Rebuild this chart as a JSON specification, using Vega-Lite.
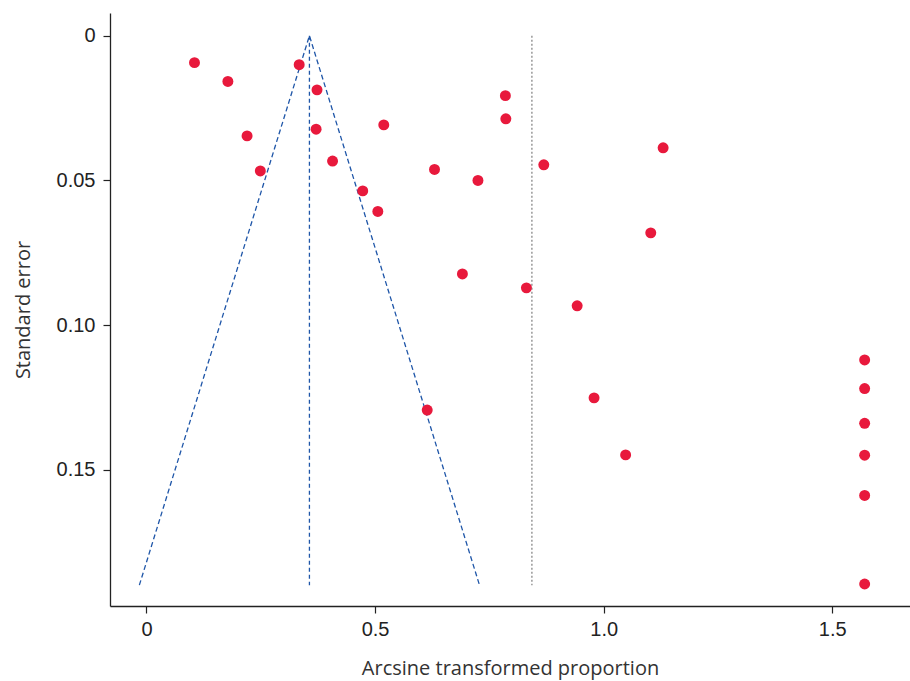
{
  "$schema": "https://vega.github.io/schema/vega-lite/v6.json",
  "width": 800,
  "height": 593,
  "autosize": {"type": "none"},
  "padding": {"left": 110, "top": 13, "right": 0, "bottom": 75},
  "background": "white",
  "config": {
    "view": {"stroke": null},
    "axis": {
      "grid": false,
      "domainColor": "#222222",
      "domainWidth": 1.3,
      "tickColor": "#222222",
      "tickWidth": 1.2,
      "tickSize": 7,
      "labelFont": "Liberation Sans",
      "labelFontSize": 20,
      "labelColor": "#222222",
      "titleFont": "Open Sans",
      "titleFontSize": 20,
      "titleFontWeight": "normal",
      "titleColor": "#333333"
    }
  },
  "datasets": {
    "studies": [
      {"p": 0.105, "se": 0.0093},
      {"p": 0.178, "se": 0.0158},
      {"p": 0.220, "se": 0.0346},
      {"p": 0.249, "se": 0.0467},
      {"p": 0.334, "se": 0.0100},
      {"p": 0.373, "se": 0.0187},
      {"p": 0.371, "se": 0.0323},
      {"p": 0.407, "se": 0.0433},
      {"p": 0.473, "se": 0.0536},
      {"p": 0.506, "se": 0.0607},
      {"p": 0.519, "se": 0.0308},
      {"p": 0.630, "se": 0.0462},
      {"p": 0.725, "se": 0.0500},
      {"p": 0.785, "se": 0.0207},
      {"p": 0.786, "se": 0.0287},
      {"p": 0.869, "se": 0.0446},
      {"p": 1.130, "se": 0.0387},
      {"p": 1.103, "se": 0.0681},
      {"p": 0.691, "se": 0.0823},
      {"p": 0.831, "se": 0.0871},
      {"p": 0.942, "se": 0.0933},
      {"p": 0.614, "se": 0.1293},
      {"p": 0.979, "se": 0.1251},
      {"p": 1.048, "se": 0.1448},
      {"p": 1.5708, "se": 0.1120},
      {"p": 1.5708, "se": 0.1219},
      {"p": 1.5708, "se": 0.1339},
      {"p": 1.5708, "se": 0.1449},
      {"p": 1.5708, "se": 0.1588},
      {"p": 1.5708, "se": 0.1894}
    ],
    "funnel": [
      {"p": -0.0156, "se": 0.1898, "ord": 1},
      {"p": 0.3564, "se": 0, "ord": 2},
      {"p": 0.7284, "se": 0.1898, "ord": 3}
    ],
    "pooled": [
      {"p": 0.3564, "se0": 0, "se1": 0.1898}
    ],
    "reference": [
      {"p": 0.843, "se0": 0, "se1": 0.1898}
    ]
  },
  "layer": [
    {
      "data": {"name": "funnel"},
      "mark": {"type": "line", "color": "#1f56a8", "strokeWidth": 1.3, "strokeDash": [5, 3]},
      "encoding": {
        "x": {
          "field": "p", "type": "quantitative",
          "scale": {"domain": [-0.0798, 1.67], "nice": false, "zero": false},
          "axis": {
            "values": [0, 0.5, 1, 1.5],
            "labelExpr": "datum.value == 0 ? '0' : format(datum.value, '.1f')",
            "title": "Arcsine transformed proportion",
            "labelPadding": 6,
            "titlePadding": 19
          }
        },
        "y": {
          "field": "se", "type": "quantitative",
          "scale": {"domain": [-0.00785, 0.197], "nice": false, "zero": false, "reverse": true},
          "axis": {
            "values": [0, 0.05, 0.1, 0.15],
            "labelExpr": "datum.value == 0 ? '0' : format(datum.value, '.2f')",
            "title": "Standard error",
            "labelPadding": 8,
            "titlePadding": 23
          }
        },
        "order": {"field": "ord", "type": "quantitative"}
      }
    },
    {
      "data": {"name": "pooled"},
      "mark": {"type": "rule", "color": "#1f56a8", "strokeWidth": 1.3, "strokeDash": [4, 3]},
      "encoding": {
        "x": {"field": "p", "type": "quantitative"},
        "y": {"field": "se0", "type": "quantitative"},
        "y2": {"field": "se1"}
      }
    },
    {
      "data": {"name": "reference"},
      "mark": {"type": "rule", "color": "#888888", "strokeWidth": 1.3, "strokeDash": [2, 2]},
      "encoding": {
        "x": {"field": "p", "type": "quantitative"},
        "y": {"field": "se0", "type": "quantitative"},
        "y2": {"field": "se1"}
      }
    },
    {
      "data": {"name": "studies"},
      "mark": {"type": "circle", "color": "#e8193c", "opacity": 1, "size": 120},
      "encoding": {
        "x": {"field": "p", "type": "quantitative"},
        "y": {"field": "se", "type": "quantitative"}
      }
    }
  ]
}
